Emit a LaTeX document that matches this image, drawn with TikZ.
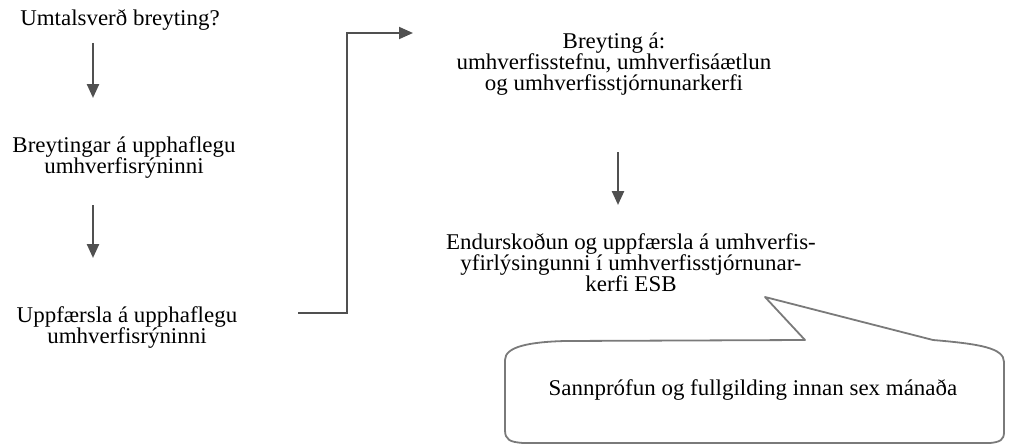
\documentclass[tikz,border=0pt]{standalone}
\usepackage{fontspec}
\setmainfont{Liberation Serif}[FakeStretch=1.02]
\usetikzlibrary{arrows.meta}
\definecolor{arrgray}{HTML}{505050}
\definecolor{callgray}{HTML}{7A7A7A}
\tikzset{
  lbl/.style={font=\fontsize{22.5}{21}\selectfont, align=center, inner sep=0pt, anchor=base, text=black},
  arr/.style={draw=arrgray, line width=2.4pt, -{Triangle[width=12pt,length=14pt]}},
  conn/.style={draw=arrgray, line width=1.8pt, -{Triangle[width=12pt,length=14pt]}},
  callout/.style={draw=callgray, line width=1.8pt, line join=round},
}
\begin{document}
\begin{tikzpicture}[x=1pt,y=-1pt]
\useasboundingbox (0,0) rectangle (1009,444);
% text nodes (anchor = baseline of last line)
\node[lbl] (t1) at (120,26) {Umtalsverð breyting?};
\node[lbl] (t2) at (124,173) {Breytingar á upphaflegu\\umhverfisrýninni};
\node[lbl] (t3) at (127,343) {Uppfærsla á upphaflegu\\umhverfisrýninni};
\node[lbl] (t4) at (614,90) {Breyting á:\\umhverfisstefnu, umhverfisáætlun\\og umhverfisstjórnunarkerfi};
\node[lbl] (t5) at (631,291) {Endurskoðun og uppfærsla á umhverfis-\\yfirlýsingunni í umhverfisstjórnunar-\\kerfi ESB};
\node[lbl] (t6) at (753,395) {Sannprófun og fullgilding innan sex mánaða};
% arrow end points
\coordinate (a1s) at (93,43);  \coordinate (a1e) at (93,98);
\coordinate (a2s) at (93,205); \coordinate (a2e) at (93,258);
\coordinate (a3s) at (618,152); \coordinate (a3e) at (618,205);
\coordinate (c1) at (298,313); \coordinate (c2) at (347,313);
\coordinate (c3) at (347,33);  \coordinate (c4) at (413,33);
\draw[arr] (a1s) -- (a1e);
\draw[arr] (a2s) -- (a2e);
\draw[arr] (a3s) -- (a3e);
\draw[conn] (c1) -- (c2) -- (c3) -- (c4);
% callout
\draw[callout] (805,340) -- (765,297) -- (933,340)
  .. controls (980,344) and (1004,348) .. (1004,362)
  -- (1004,432)
  .. controls (1004,440) and (1000,442) .. (990,443)
  -- (523,443)
  .. controls (510,442) and (505,440) .. (505,430)
  -- (505,360)
  .. controls (505,347) and (528,342) .. (565,341)
  -- cycle;
\end{tikzpicture}
\end{document}
